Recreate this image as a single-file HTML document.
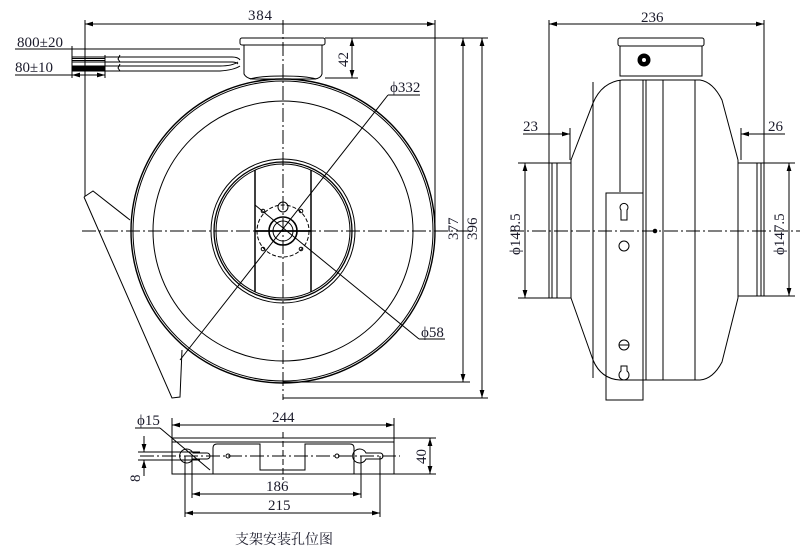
<!DOCTYPE html>
<html><head><meta charset="utf-8"><style>
html,body{margin:0;padding:0;background:#fff;width:811px;height:552px;overflow:hidden}
svg{display:block}
text{font-family:"Liberation Serif","Noto Serif CJK SC",serif;font-size:15px;fill:#1a1a2a}
</style></head><body>
<svg width="811" height="552" viewBox="0 0 811 552" xmlns="http://www.w3.org/2000/svg">
<defs>
<marker id="a" viewBox="0 0 10 6" refX="10" refY="3" markerWidth="8" markerHeight="5" orient="auto-start-reverse"><path d="M0,0L10,3L0,6z" fill="#000"/></marker>
</defs>
<g stroke="#000" fill="none" stroke-width="1">
<line x1="85" y1="20" x2="85" y2="196"/>
<line x1="435" y1="20" x2="435" y2="231"/>
<line x1="85" y1="24" x2="435" y2="24" marker-start="url(#a)" marker-end="url(#a)"/>
<rect x="240" y="38" width="85" height="7" rx="2"/>
<path d="M244 45 V74 Q246 78 252 79 H315 Q321 78 322 74 V45"/>
<path d="M250 79 Q260 76 283 76 Q306 76 316 79"/>
<line x1="325" y1="38" x2="358" y2="38"/>
<line x1="325" y1="78" x2="358" y2="78"/>
<line x1="352" y1="38" x2="352" y2="78" marker-start="url(#a)" marker-end="url(#a)"/>
<line x1="15" y1="49" x2="240" y2="49"/>
<line x1="72" y1="46" x2="72" y2="78"/>
<path d="M72 57 H232 Q238 57 240 60"/>
<path d="M72 62 H232 Q236 62 238 64"/>
<path d="M72 66 H220 Q232 66 238 62"/>
<path d="M72 71 H220 Q234 70 240 66"/>
<path d="M72 58.5 H105 M72 60.5 H105"/>
<rect x="72" y="66" width="33" height="5" fill="#000"/>
<line x1="105" y1="55" x2="105" y2="78"/>
<line x1="15" y1="75" x2="72" y2="75"/>
<line x1="72" y1="75" x2="105" y2="75" marker-start="url(#a)" marker-end="url(#a)"/>
<path d="M120 55 l-2 4 2 3 M120 64 l-2 4 2 3"/>
<circle cx="283" cy="231" r="152" stroke-width="1.4"/>
<circle cx="283" cy="231" r="150"/>
<circle cx="283" cy="231" r="130"/>
<path d="M84 197 L93 191 L130 220"/>
<path d="M84 197 L172 398 L180 397 L182 350"/>
<circle cx="283" cy="231" r="72"/>
<circle cx="283" cy="231" r="69" stroke-width="1.3"/>
<circle cx="283" cy="231" r="67"/>
<line x1="255" y1="170" x2="255" y2="292" stroke-width="1.5"/>
<line x1="311" y1="170" x2="311" y2="292" stroke-width="1.5"/>
<line x1="255" y1="231" x2="311" y2="231" stroke-width="1.8"/>
<circle cx="283" cy="231" r="26" stroke-dasharray="4,2"/>
<circle cx="283" cy="231" r="14" stroke-width="1.6"/>
<circle cx="283" cy="231" r="10"/>
<circle cx="283" cy="207" r="5"/>
<circle cx="263" cy="211" r="1.8"/><circle cx="301" cy="211" r="1.8"/>
<circle cx="263" cy="249" r="1.8"/><circle cx="301" cy="249" r="1.8"/>
<line x1="82" y1="231" x2="470" y2="231" stroke-dasharray="14,3,2,3"/>
<line x1="283" y1="20" x2="283" y2="400" stroke-dasharray="14,3,2,3"/>
<line x1="180" y1="360" x2="388" y2="95"/>
<line x1="388" y1="95" x2="420" y2="95"/>
<line x1="255" y1="205" x2="419" y2="339"/>
<line x1="419" y1="339" x2="445" y2="339"/>
<line x1="325" y1="38" x2="488" y2="38"/>
<line x1="283" y1="382" x2="470" y2="382"/>
<line x1="283" y1="398" x2="488" y2="398"/>
<line x1="463" y1="38" x2="463" y2="382" marker-start="url(#a)" marker-end="url(#a)"/>
<line x1="482" y1="38" x2="482" y2="398" marker-start="url(#a)" marker-end="url(#a)"/>

<line x1="549" y1="20" x2="549" y2="163"/>
<line x1="764" y1="20" x2="764" y2="163"/>
<line x1="549" y1="24" x2="764" y2="24" marker-start="url(#a)" marker-end="url(#a)"/>
<rect x="618" y="38" width="86" height="8" rx="2"/>
<path d="M620 46 V76 H702 V46"/>
<circle cx="644" cy="60" r="6" fill="#000"/><circle cx="644" cy="60" r="2" fill="#fff" stroke="none"/>
<path d="M571 160 L593 103 Q602 82 622 80 H700 Q713 82 722 100 L738 160"/>
<path d="M571 298 L593 360 Q601 379 620 380 H700 Q713 379 722 362 L738 298"/>
<line x1="571" y1="160" x2="571" y2="298"/>
<line x1="738" y1="160" x2="738" y2="298"/>
<path d="M571 163 H549 V298 H571"/>
<line x1="552" y1="163" x2="552" y2="298"/>
<line x1="557" y1="163" x2="557" y2="298"/>
<path d="M738 163 H764 V296 H738"/>
<line x1="757" y1="163" x2="757" y2="296"/>
<line x1="761" y1="163" x2="761" y2="296"/>
<line x1="593" y1="82" x2="593" y2="378"/>
<line x1="620" y1="80" x2="620" y2="192"/>
<line x1="643" y1="80" x2="643" y2="380"/>
<line x1="646" y1="80" x2="646" y2="380"/>
<line x1="663" y1="80" x2="663" y2="380"/>
<line x1="695" y1="80" x2="695" y2="380"/>
<rect x="606" y="193" width="37" height="207"/>
<path d="M621 210 a4 4 0 1 1 6 0 v10 h-6z"/>
<circle cx="624" cy="246" r="5"/>
<circle cx="624" cy="345" r="5"/><line x1="619" y1="345" x2="629" y2="345"/>
<path d="M621 366 h6 v5 a5 5 0 1 1 -6 0z"/>
<circle cx="655" cy="231" r="1.8" fill="#000"/>
<line x1="510" y1="231" x2="800" y2="231" stroke-dasharray="14,3,2,3"/>
<line x1="518" y1="163" x2="549" y2="163"/>
<line x1="518" y1="298" x2="549" y2="298"/>
<line x1="525" y1="163" x2="525" y2="298" marker-start="url(#a)" marker-end="url(#a)"/>
<line x1="764" y1="163" x2="795" y2="163"/>
<line x1="764" y1="296" x2="795" y2="296"/>
<line x1="789" y1="163" x2="789" y2="296" marker-start="url(#a)" marker-end="url(#a)"/>
<line x1="570" y1="128" x2="570" y2="160"/>
<line x1="741" y1="128" x2="741" y2="160"/>
<line x1="523" y1="134" x2="549" y2="134"/><line x1="549" y1="134" x2="570" y2="134" marker-end="url(#a)"/>
<line x1="741" y1="134" x2="764" y2="134" marker-start="url(#a)"/><line x1="764" y1="134" x2="785" y2="134"/>

<rect x="172" y="438" width="222" height="36"/>
<line x1="172" y1="442" x2="394" y2="442"/>
<path d="M213 474 V448 Q213 444 217 444 H260 V470 H305 V444 H350 Q354 444 354 448 V474"/>
<path d="M193 453 A7 7 0 1 0 193 459 H207 A3 3 0 0 0 207 453 Z"/>
<path d="M366 453 A7 7 0 1 0 366 459 H380 A3 3 0 0 0 380 453 Z"/>
<circle cx="228" cy="456" r="2"/><circle cx="337" cy="456" r="2"/>
<line x1="140" y1="456" x2="400" y2="456" stroke-dasharray="14,3,2,3"/>
<line x1="283" y1="432" x2="283" y2="480" stroke-dasharray="6,3"/>
<line x1="172" y1="418" x2="172" y2="438"/><line x1="394" y1="418" x2="394" y2="438"/>
<line x1="172" y1="425" x2="394" y2="425" marker-start="url(#a)" marker-end="url(#a)"/>
<line x1="394" y1="438" x2="436" y2="438"/><line x1="394" y1="474" x2="436" y2="474"/>
<line x1="430" y1="438" x2="430" y2="474" marker-start="url(#a)" marker-end="url(#a)"/>
<line x1="192" y1="456" x2="192" y2="498"/><line x1="361" y1="456" x2="361" y2="498"/>
<line x1="192" y1="494" x2="361" y2="494" marker-start="url(#a)" marker-end="url(#a)"/>
<line x1="185" y1="456" x2="185" y2="517"/><line x1="380" y1="456" x2="380" y2="517"/>
<line x1="185" y1="513" x2="380" y2="513" marker-start="url(#a)" marker-end="url(#a)"/>
<line x1="135" y1="428" x2="160" y2="428"/>
<line x1="160" y1="428" x2="210" y2="470"/>
<line x1="138" y1="452" x2="200" y2="452"/><line x1="138" y1="460" x2="200" y2="460"/>
<line x1="144" y1="436" x2="144" y2="452" marker-end="url(#a)"/>
<line x1="144" y1="476" x2="144" y2="460" marker-end="url(#a)"/>
</g>
<text x="248" y="20" textLength="24">384</text>
<text x="17" y="47" textLength="46">800±20</text>
<text x="15" y="72" textLength="38">80±10</text>
<text x="390" y="92">ϕ332</text>
<text x="421" y="337">ϕ58</text>
<text transform="translate(348,67) rotate(-90)">42</text>
<text transform="translate(458,240) rotate(-90)">377</text>
<text transform="translate(477,240) rotate(-90)">396</text>
<text x="641" y="22">236</text>
<text x="523" y="131">23</text>
<text x="768" y="131">26</text>
<text transform="translate(520,255) rotate(-90)">ϕ148.5</text>
<text transform="translate(784,255) rotate(-90)">ϕ147.5</text>
<text x="272" y="422">244</text>
<text x="137" y="425">ϕ15</text>
<text transform="translate(426,464) rotate(-90)">40</text>
<text transform="translate(140,482) rotate(-90)">8</text>
<text x="266" y="491">186</text>
<text x="268" y="510">215</text>
<text x="235" y="544" style="font-size:14px">支架安装孔位图</text>
</svg>
</body></html>
